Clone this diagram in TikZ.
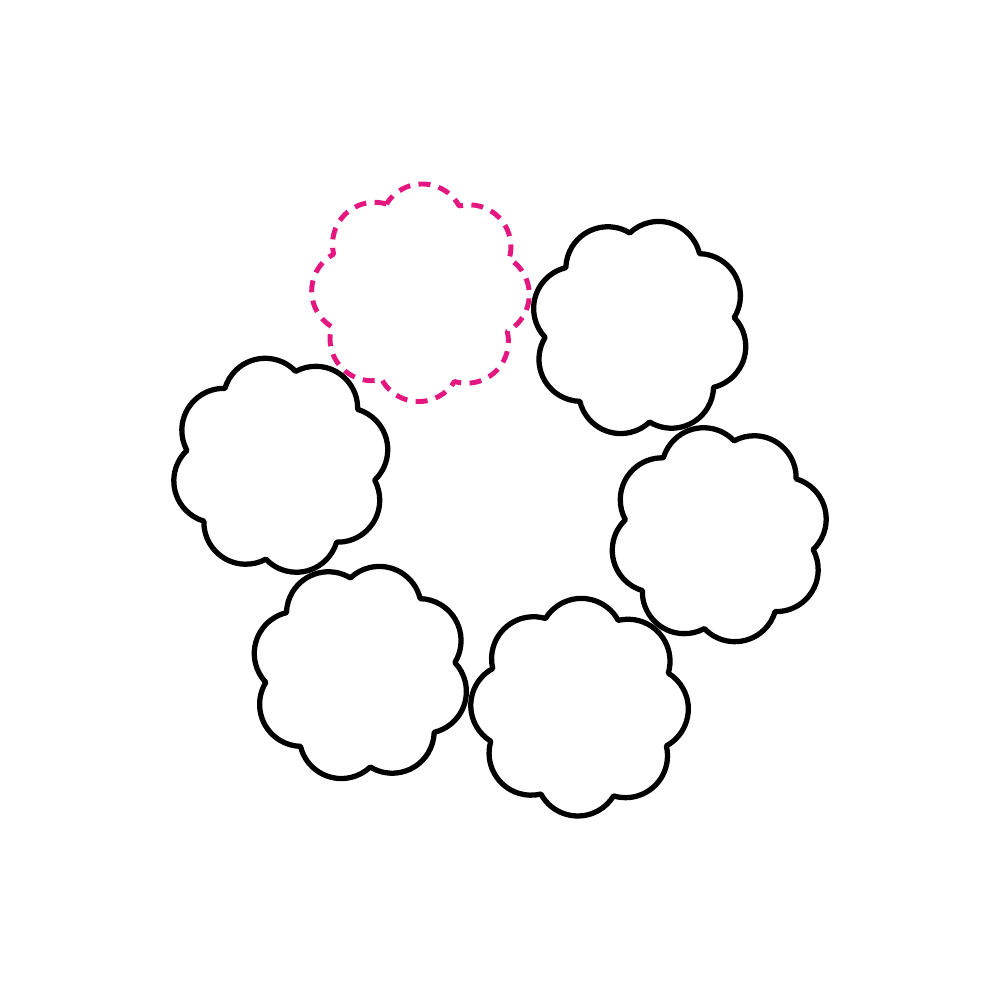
\documentclass[tikz,border=0pt]{standalone}
\usepackage{tikz}
\usetikzlibrary{calc}

\definecolor{flowerpink}{RGB}{228,22,128}

\tikzset{
  petals/.style={line width=1.5pt, line join=round},
  ghost/.style={petals, flowerpink, line width=1.4pt, dash pattern=on 3.4pt off 2.4pt}
}

% one flower: centre, angle of a dip, style
\newcommand{\flower}[3]{
  \draw[#3] ($(#1)+(#2:0.95)$)
    \foreach \i in {0,...,7} { arc[start angle={#2+45*\i-37.5}, delta angle=120, radius=0.42] } -- cycle;
}

\begin{document}
\begin{tikzpicture}

\useasboundingbox (0,0) rectangle (10,10);

\coordinate (centre) at (5,5);
\path (centre) ++(111:2.22) coordinate (P);
\path (centre) ++(51:2.22) coordinate (A);
\path (centre) ++(-9:2.22) coordinate (B);
\path (centre) ++(-69:2.22) coordinate (C);
\path (centre) ++(-129:2.22) coordinate (D);
\path (centre) ++(171:2.22) coordinate (E);

\flower{A}{51}{petals}
\flower{B}{-9}{petals}
\flower{C}{-69}{petals}
\flower{D}{-129}{petals}
\flower{E}{171}{petals}

\flower{P}{111}{ghost}

\end{tikzpicture}
\end{document}
